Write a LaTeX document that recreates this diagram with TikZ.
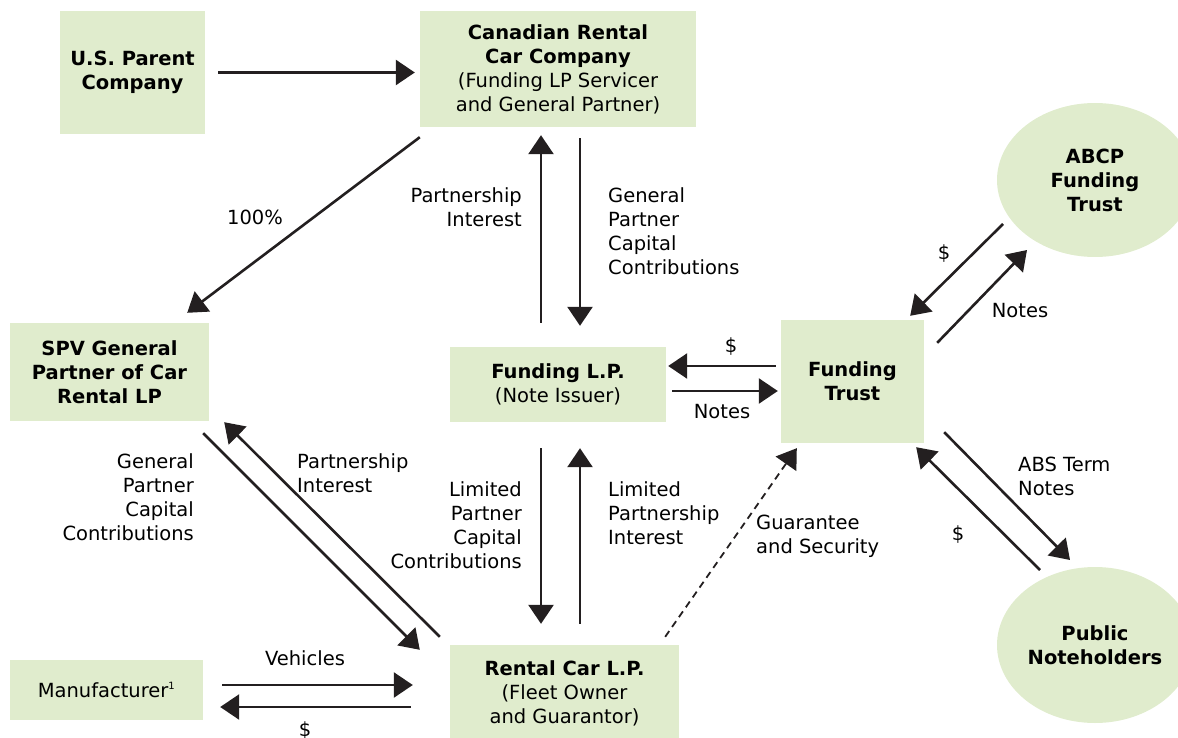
\documentclass[tikz,border=0pt]{standalone}
\usepackage{fontspec}
\setmainfont{DejaVu Sans}
\usetikzlibrary{arrows.meta,calc,shapes.geometric}
\definecolor{boxgreen}{RGB}{224,236,205}
\definecolor{ink}{RGB}{35,31,32}
\begin{document}
\begin{tikzpicture}[x=1pt,y=-1pt,
  every node/.style={font=\fontsize{19.5}{24}\selectfont, text=black},
  box/.style={fill=boxgreen, draw=none, align=center, inner sep=0pt},
  oval/.style={ellipse, fill=boxgreen, draw=none, align=center, inner sep=0pt},
  lbl/.style={inner sep=0pt},
  arr/.style={draw=ink, line width=2.6pt, -{Triangle[length=19pt,width=25pt]}},
  darr/.style={draw=ink, line width=1.8pt, dashed, dash pattern=on 7pt off 5pt, -{Triangle[length=19pt,width=25pt]}}]
\useasboundingbox (0,0) rectangle (1178,738);

% boxes
\node[box, minimum width=145pt, minimum height=123pt] (us) at (132.5,72.5) {\textbf{U.S. Parent}\\\textbf{Company}};
\node[box, minimum width=276pt, minimum height=116pt] (can) at (558,69) {\textbf{Canadian Rental}\\\textbf{Car Company}\\(Funding LP Servicer\\and General Partner)};
\node[box, minimum width=199pt, minimum height=98pt] (spv) at (109.5,372) {\textbf{SPV General}\\\textbf{Partner of Car}\\\textbf{Rental LP}};
\node[box, minimum width=216pt, minimum height=75pt] (flp) at (558,384.5) {\textbf{Funding L.P.}\\(Note Issuer)};
\node[box, minimum width=143pt, minimum height=123pt] (ft) at (852.5,381.5) {\textbf{Funding}\\\textbf{Trust}};
\node[box, minimum width=193pt, minimum height=60pt] (mfr) at (106.5,690) {Manufacturer\textsuperscript{\fontsize{10}{10}\selectfont 1}};
\node[box, minimum width=229pt, minimum height=96pt] (rcl) at (564.5,693) {\textbf{Rental Car L.P.}\\(Fleet Owner\\and Guarantor)};
\node[oval, minimum width=196pt, minimum height=154pt] (abcp) at (1095,180) {\textbf{ABCP}\\\textbf{Funding}\\\textbf{Trust}};
\node[oval, minimum width=196pt, minimum height=156pt] (pub) at (1095,645) {\textbf{Public}\\\textbf{Noteholders}};

% connectors
\draw[arr, shorten <=13pt, shorten >=5pt] (us.east) -- (us.east -| can.west);
\draw[arr] ($(can.south west)+(0,10)$) -- ($(spv.north east)+(-22,-10)$);
\draw[arr, shorten <=24pt, shorten >=8pt] ($(flp.north)+(-17,0)$) -- ($(can.south)+(-17,0)$);
\draw[arr, shorten <=11pt, shorten >=21pt] ($(can.south)+(22,0)$) -- ($(flp.north)+(22,0)$);
\draw[arr, shorten <=5pt, shorten >=2pt] ($(ft.west)+(0,-15.5)$) -- ($(ft.west -| flp.east)+(0,-15.5)$);
\draw[arr, shorten <=6pt, shorten >=3pt] ($(flp.east)+(0,6.5)$) -- ($(flp.east -| ft.west)+(0,6.5)$);
\draw[arr] ($(abcp.center)+(-92,44)$) -- ($(ft.north east)+(-14,-4)$);
\draw[arr] ($(ft.north east)+(13,23)$) -- ($(abcp.center)+(-68,70)$);
\draw[arr] ($(ft.south east)+(20,-11)$) -- ($(pub.center)+(-25,-85)$);
\draw[arr] ($(pub.center)+(-55,-75)$) -- ($(ft.south east)+(-8,4)$);
\draw[arr] ($(spv.south east)+(-6,12)$) -- ($(rcl.north west)+(-30,5)$);
\draw[arr] ($(rcl.north west)+(-10,-8)$) -- ($(spv.south east)+(15,1)$);
\draw[arr, shorten <=26pt, shorten >=21pt] ($(flp.south)+(-17,0)$) -- ($(flp.south |- rcl.north)+(-17,0)$);
\draw[arr, shorten <=21pt, shorten >=26pt] ($(flp.south |- rcl.north)+(22,0)$) -- ($(flp.south)+(22,0)$);
\draw[darr] ($(rcl.north east)+(-14,-8)$) -- ($(ft.south west)+(16,5)$);
\draw[arr] ($(mfr.east)+(19,-5)$) -- ($(mfr.east -| rcl.west)+(-37,-5)$);
\draw[arr] ($(mfr.east -| rcl.west)+(-39,17)$) -- ($(mfr.east)+(17,17)$);

% labels
\node[lbl] (l100) at (255,217) {100\%};
\node[lbl, anchor=east, align=right] (lpi1) at (522,207) {Partnership\\Interest};
\node[lbl, anchor=west, align=left] (lgp1) at (608,231) {General\\Partner\\Capital\\Contributions};
\node[lbl] (ld1) at (731,347) {\$};
\node[lbl] (ln1) at (722,412) {Notes};
\node[lbl] (ld2) at (944,254) {\$};
\node[lbl] (ln2) at (1020,311) {Notes};
\node[lbl, anchor=west, align=left] (labs) at (1018,476) {ABS Term\\Notes};
\node[lbl] (ld3) at (958,535) {\$};
\node[lbl, anchor=east, align=right] (lgp2) at (194,497) {General\\Partner\\Capital\\Contributions};
\node[lbl, anchor=west, align=left] (lpi2) at (297,473) {Partnership\\Interest};
\node[lbl, anchor=east, align=right] (llp) at (522,525) {Limited\\Partner\\Capital\\Contributions};
\node[lbl, anchor=west, align=left] (llpi) at (608,513) {Limited\\Partnership\\Interest};
\node[lbl, anchor=west, align=left] (lgs) at (756,536) {Guarantee\\and Security};
\node[lbl] (lveh) at (305,658) {Vehicles};
\node[lbl] (ld4) at (305,731) {\$};
\end{tikzpicture}
\end{document}
